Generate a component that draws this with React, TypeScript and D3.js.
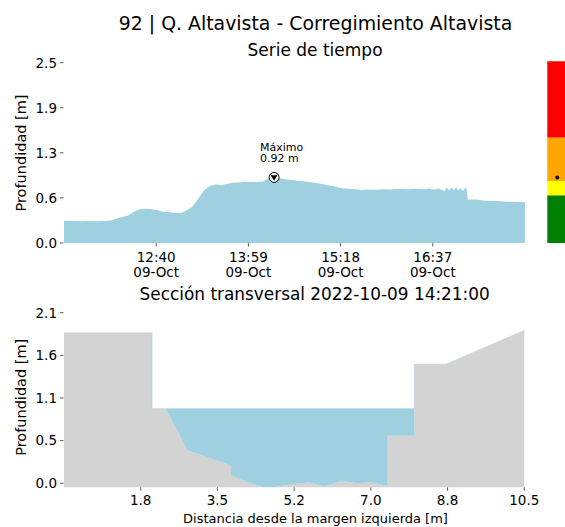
import React from 'react';
import * as d3 from 'd3';

// ---------- Data ----------
const TITLE = '92 | Q. Altavista - Corregimiento Altavista';
const SERIES_TITLE = 'Serie de tiempo';
const SECTION_TITLE = 'Sección transversal 2022-10-09 14:21:00';
const Y_LABEL = 'Profundidad [m]';
const X_LABEL = 'Distancia desde la margen izquierda [m]';
const MAX_LABEL = ['Máximo', '0.92 m'];

const seriesTimes = [
  '11:21', '11:26', '11:31', '11:36', '11:41', '11:46', '11:51', '11:56', '12:01', '12:06',
  '12:11', '12:16', '12:21', '12:26', '12:31', '12:36', '12:41', '12:46', '12:51', '12:56',
  '13:01', '13:06', '13:11', '13:16', '13:21', '13:26', '13:31', '13:36', '13:41', '13:46',
  '13:51', '13:56', '14:01', '14:06', '14:11', '14:16', '14:21', '14:26', '14:31', '14:36',
  '14:41', '14:46', '14:51', '14:56', '15:01', '15:06', '15:11', '15:16', '15:21', '15:26',
  '15:31', '15:36', '15:41', '15:46', '15:51', '15:56', '16:01', '16:06', '16:11', '16:16',
  '16:21', '16:26', '16:31', '16:34', '16:36', '16:40', '16:42', '16:44', '16:47', '16:49',
  '16:51', '16:53', '16:55', '16:57', '16:59', '17:01', '17:03', '17:05', '17:06', '17:07',
  '17:10', '17:15', '17:20', '17:25', '17:30', '17:35', '17:40', '17:45', '17:50', '17:56',
];
const seriesDepth = [
  0.315, 0.31, 0.31, 0.305, 0.31, 0.305, 0.305, 0.31, 0.315, 0.34,
  0.365, 0.385, 0.44, 0.475, 0.48, 0.475, 0.46, 0.44, 0.43, 0.42,
  0.42, 0.455, 0.51, 0.62, 0.74, 0.8, 0.82, 0.815, 0.83, 0.845,
  0.85, 0.86, 0.86, 0.855, 0.86, 0.9, 0.92, 0.91, 0.895, 0.885,
  0.875, 0.865, 0.855, 0.845, 0.83, 0.815, 0.8, 0.78, 0.765, 0.76,
  0.755, 0.745, 0.75, 0.748, 0.752, 0.755, 0.75, 0.758, 0.762, 0.755,
  0.76, 0.758, 0.755, 0.77, 0.752, 0.755, 0.768, 0.748, 0.73, 0.775,
  0.74, 0.78, 0.745, 0.778, 0.735, 0.77, 0.73, 0.782, 0.75, 0.605,
  0.61, 0.612, 0.595, 0.59, 0.588, 0.585, 0.58, 0.578, 0.575, 0.572,
];
const seriesStart = '11:21';
const seriesEnd = '17:56';
const maxTime = '14:21';
const maxDepth = 0.92;

const timeTicks = ['12:40', '13:59', '15:18', '16:37'];
const dateLabel = '09-Oct';
const topYTicks = [0, 0.6325, 1.265, 1.8975, 2.53];
const topYTickLabels = ['0.0', '0.6', '1.3', '1.9', '2.5'];

const alertLevels = [0, 0.67, 0.87, 1.48, 2.55];
const alertColors = ['#008000', '#ffff00', '#ffa500', '#ff0000'];
const currentLevel = 0.92;

const stationX = [0, 2.01, 2.01, 2.32, 2.82, 3.81, 3.81, 4.2, 4.55, 4.8, 5.25, 5.6, 5.95, 6.32, 6.68, 7.0, 7.37, 7.37, 7.99, 7.99, 8.71, 10.5];
const terrainZ = [1.87, 1.87, 0.93, 0.93, 0.41, 0.22, 0.1, 0.01, -0.045, -0.045, -0.01, 0.01, -0.04, 0.03, 0.0, 0.01, -0.03, 0.59, 0.59, 1.48, 1.48, 1.9];
const waterLevel = 0.93;
const secXTicks = [1.75, 3.5, 5.25, 7.0, 8.75, 10.5];
const secXTickLabels = ['1.8', '3.5', '5.2', '7.0', '8.8', '10.5'];
const secYTicks = [0, 0.53, 1.06, 1.59, 2.12];
const secYTickLabels = ['0.0', '0.5', '1.1', '1.6', '2.1'];

// ---------- Helpers ----------
const toDate = (s: string) => {
  const [h, m] = s.split(':').map(Number);
  return new Date(2022, 9, 9, h, m);
};

const FONT = 'DejaVu Sans, Verdana, sans-serif';
const WATER = '#9ed0e0';
const GROUND = '#d3d3d3';

export default function App() {
  const W = 565;
  const H = 527;

  // top chart scales
  const xT = d3.scaleTime().domain([toDate(seriesStart), toDate(seriesEnd)]).range([64, 525]);
  const yT = d3.scaleLinear().domain([0, 2.53]).range([243, 62.7]);
  const seriesData = seriesTimes.map((t, i) => ({ t: toDate(t), v: seriesDepth[i] }));
  const areaT = d3
    .area<{ t: Date; v: number }>()
    .x((d) => xT(d.t))
    .y0(yT(0))
    .y1((d) => yT(d.v));

  // section scales
  const xS = d3.scaleLinear().domain([0, 10.5]).range([64, 524.3]);
  const yS = d3.scaleLinear().domain([-0.05, 2.12]).range([487.3, 312.7]);
  const secData = stationX.map((x, i) => ({ x, z: terrainZ[i] }));
  const groundArea = d3
    .area<{ x: number; z: number }>()
    .x((d) => xS(d.x))
    .y0(yS(-0.05))
    .y1((d) => yS(d.z));
  const waterArea = d3
    .area<{ x: number; z: number }>()
    .x((d) => xS(d.x))
    .y0((d) => yS(d.z))
    .y1((d) => yS(Math.max(d.z, waterLevel)));

  const mx = xT(toDate(maxTime));
  const my = yT(maxDepth);

  return (
    <svg
      width={W}
      height={H}
      viewBox={`0 0 ${W} ${H}`}
      style={{ position: 'absolute', left: 0, top: 0, background: '#fff' }}
      fontFamily={FONT}
    >
      <rect x={0} y={0} width={W} height={H} fill="#fff" />
      {/* titles */}
      <text x={315.5} y={30} fontSize={18.9} textAnchor="middle" fill="#000">{TITLE}</text>
      <text x={315} y={56} fontSize={17} textAnchor="middle" fill="#000">{SERIES_TITLE}</text>

      {/* top series */}
      <path d={areaT(seriesData) || ''} fill={WATER} stroke="none" />
      {topYTicks.map((v, i) => (
        <g key={'ty' + i}>
          <line x1={60} x2={63.5} y1={yT(v)} y2={yT(v)} stroke="#333" strokeWidth={0.8} />
          <text x={57} y={yT(v)} dy="0.36em" fontSize={13.5} textAnchor="end" fill="#000">{topYTickLabels[i]}</text>
        </g>
      ))}
      {timeTicks.map((t, i) => {
        const x = xT(toDate(t));
        return (
          <g key={'tx' + i}>
            <line x1={x} x2={x} y1={243} y2={246.5} stroke="#333" strokeWidth={0.8} />
            <text x={x} y={261.7} fontSize={13.5} textAnchor="middle" fill="#000">{t}</text>
            <text x={x} y={276.7} fontSize={13.5} textAnchor="middle" fill="#000">{dateLabel}</text>
          </g>
        );
      })}
      <text
        transform={`translate(26,153) rotate(-90)`}
        fontSize={14.5}
        textAnchor="middle"
        fill="#000"
      >{Y_LABEL}</text>

      {/* max annotation */}
      <text x={260} y={150.7} fontSize={11} fill="#000">{MAX_LABEL[0]}</text>
      <text x={260} y={162.3} fontSize={11} fill="#000">{MAX_LABEL[1]}</text>
      <circle cx={mx} cy={my} r={5} fill="#fff" stroke="#000" strokeWidth={1} />
      <path
        d={`M${mx - 3.4},${my - 2.2} L${mx + 3.4},${my - 2.2} L${mx},${my + 3.4} Z`}
        fill="#000"
      />

      {/* alert colour bar */}
      {alertColors.map((c, i) => (
        <rect
          key={'al' + i}
          x={547.3}
          y={yT(alertLevels[i + 1])}
          width={25}
          height={yT(alertLevels[i]) - yT(alertLevels[i + 1])}
          fill={c}
        />
      ))}
      <circle cx={557.3} cy={yT(currentLevel)} r={2} fill="#000" />

      {/* section */}
      <text x={314.7} y={300} fontSize={16.9} textAnchor="middle" fill="#000">{SECTION_TITLE}</text>
      <path d={groundArea(secData) || ''} fill={GROUND} stroke="none" />
      <path d={waterArea(secData) || ''} fill={WATER} stroke={WATER} strokeOpacity={0.35} strokeWidth={0.6} />
      {secYTicks.map((v, i) => (
        <g key={'sy' + i}>
          <line x1={60} x2={63.5} y1={yS(v)} y2={yS(v)} stroke="#333" strokeWidth={0.8} />
          <text x={57} y={yS(v)} dy="0.36em" fontSize={13.5} textAnchor="end" fill="#000">{secYTickLabels[i]}</text>
        </g>
      ))}
      {secXTicks.map((v, i) => (
        <g key={'sx' + i}>
          <line x1={xS(v)} x2={xS(v)} y1={487.3} y2={490.8} stroke="#333" strokeWidth={0.8} />
          <text x={xS(v)} y={505} fontSize={13.5} textAnchor="middle" fill="#000">{secXTickLabels[i]}</text>
        </g>
      ))}
      <text
        transform={`translate(26,397.3) rotate(-90)`}
        fontSize={14.5}
        textAnchor="middle"
        fill="#000"
      >{Y_LABEL}</text>
      <text x={315.5} y={523} fontSize={13} textAnchor="middle" fill="#000">{X_LABEL}</text>
    </svg>
  );
}
